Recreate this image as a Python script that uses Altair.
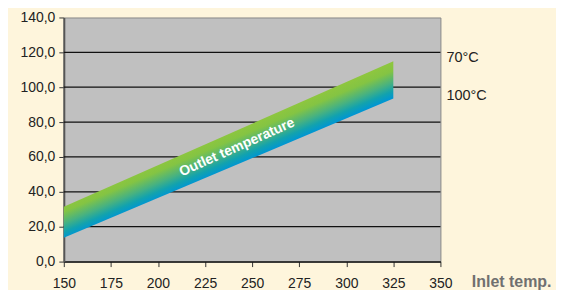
import altair as alt
import pandas as pd

# data
inlet = [150, 325]
outlet_70 = [31.4, 114.9]    # upper edge (70°C)
outlet_100 = [13.7, 93.5]    # lower edge (100°C)
grid_vals = [20, 40, 60, 80, 100, 120]
y_ticks = [0, 20, 40, 60, 80, 100, 120, 140]
x_ticks = [150, 175, 200, 225, 250, 275, 300, 325, 350]
edge_labels = ["70°C", "100°C"]
edge_label_y = [116.5, 95.0]
band_label = "Outlet temperature"
band_label_pos = (242, 65.5)

FONT = "Liberation Sans"

band_df = pd.DataFrame({"inlet": inlet, "top": outlet_70, "bottom": outlet_100})
grid_df = pd.DataFrame({"g": grid_vals})
lab_df = pd.DataFrame({"t": edge_labels, "y": edge_label_y, "x": [350, 350]})
bl_df = pd.DataFrame({"t": [band_label], "x": [band_label_pos[0]], "y": [band_label_pos[1]]})

xscale = alt.Scale(domain=[150, 350], nice=False, zero=False)
yscale = alt.Scale(domain=[0, 140], nice=False)

xaxis = alt.Axis(values=x_ticks, grid=False, labelFontSize=14, labelFont=FONT, labelColor="#222",
                 labelFlush=False, labelOverlap=False,
                 domainColor="#111", domainWidth=1.5, tickColor="#333", tickSize=5, labelPadding=10,
                 title="Inlet temp.", titleFont=FONT, titleFontSize=16, titleFontWeight="bold",
                 titleColor="#707070", titleX=409, titleY=20, titleAlign="left", titleBaseline="middle")
yaxis = alt.Axis(values=y_ticks, grid=False, labelFontSize=14, labelFont=FONT, labelColor="#222",
                 labelFlush=False, labelOverlap=False,
                 labelExpr="replace(format(datum.value, '.1f'), '.', ',')",
                 domainColor="#555", domainWidth=2, tickColor="#333", tickSize=5, labelPadding=4,
                 title=None)

grid = alt.Chart(grid_df).mark_rule(color="#111", strokeWidth=1.3).encode(
    y=alt.Y("g:Q", scale=yscale, axis=yaxis)
)

band = alt.Chart(band_df).mark_area(
    color=alt.Gradient(
        gradient="linear",
        stops=[alt.GradientStop(color="#8dc63f", offset=0),
               alt.GradientStop(color="#84c443", offset=0.22),
               alt.GradientStop(color="#48b280", offset=0.55),
               alt.GradientStop(color="#12a2ae", offset=0.8),
               alt.GradientStop(color="#0096d2", offset=1)],
        x1=0.5, y1=0.41, x2=0.596, y2=0.53,
    ),
    opacity=1,
).encode(
    x=alt.X("inlet:Q", scale=xscale, axis=xaxis),
    y=alt.Y("top:Q", scale=yscale, axis=yaxis),
    y2="bottom:Q",
)

labels = alt.Chart(lab_df).mark_text(
    align="left", baseline="middle", dx=6, fontSize=14.5, font=FONT, color="#222", clip=False
).encode(
    x=alt.X("x:Q", scale=xscale, axis=xaxis),
    y=alt.Y("y:Q", scale=yscale, axis=yaxis),
    text="t:N",
)

band_text = alt.Chart(bl_df).mark_text(
    align="center", baseline="middle", angle=336, fontSize=14, fontWeight="bold",
    font=FONT, color="white"
).encode(
    x=alt.X("x:Q", scale=xscale, axis=xaxis),
    y=alt.Y("y:Q", scale=yscale, axis=yaxis),
    text="t:N",
)

chart = alt.layer(grid, band, labels, band_text).properties(
    width=378, height=245,
    background="#fef5dc",
    autosize=alt.AutoSizeParams(type="none"),
    padding={"left": 56, "top": 9, "right": 116, "bottom": 28},
).configure_view(
    fill="#c0c0c0", stroke="#888888", strokeWidth=1
)

chart.save("out.html", embed_options={"renderer": "svg", "actions": False})
